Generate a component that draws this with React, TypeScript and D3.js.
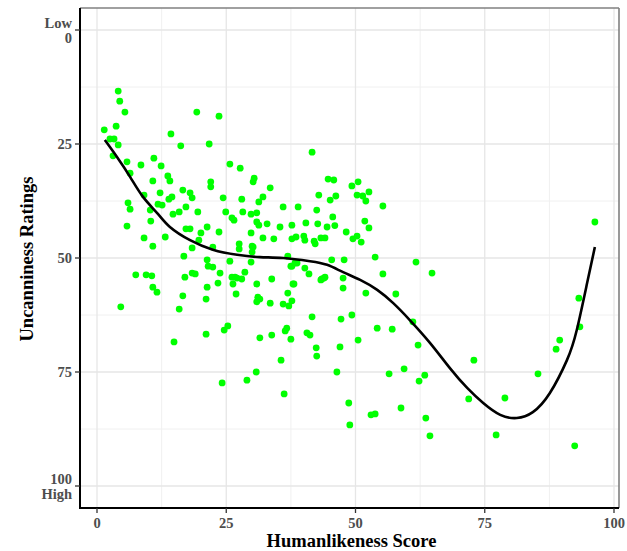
import React from "react";
import * as d3 from "d3";

// Humanlikeness score (x) and uncanniness rating (y) for each rated face
const humanlikeness: number[] = [
  1.4, 4.1, 4.4, 5.4, 3.7, 2.5, 3.3, 4.1, 3.1, 5.8, 6.4, 8.5, 11.0, 12.4, 10.8, 13.7, 14.1, 12.2, 16.6, 18.0,
  18.4, 19.3, 23.6, 14.3, 16.2, 21.7, 22.0, 22.0, 25.7, 27.7, 30.4, 30.2, 33.5, 6.0, 6.4, 5.8, 9.1, 10.3, 10.4, 9.1,
  10.8, 11.8, 12.6, 13.9, 14.5, 14.7, 15.9, 13.2, 17.2, 19.5, 21.3, 23.6, 24.4, 24.9, 26.1, 26.5, 28.0, 28.2, 29.8, 30.9,
  31.3, 32.9, 32.1, 31.3, 32.1, 34.2, 29.8, 17.2, 18.0, 20.1, 19.7, 18.4, 16.8, 22.4, 21.3, 21.5, 22.4, 23.8, 25.7, 27.5,
  27.5, 30.0, 29.8, 28.6, 26.7, 7.5, 9.5, 10.6, 18.4, 19.0, 17.0, 10.8, 11.6, 4.6, 16.6, 15.9, 23.4, 21.3, 21.1, 26.1,
  27.1, 28.0, 26.3, 26.9, 30.9, 33.8, 31.1, 31.5, 30.9, 33.5, 36.0, 36.9, 38.1, 37.7, 37.1, 37.5, 38.3, 40.2, 41.0, 43.5,
  44.1, 41.6, 21.1, 24.6, 25.3, 14.9, 31.5, 33.8, 36.4, 36.7, 37.5, 40.6, 41.2, 42.4, 42.5, 35.6, 30.8, 29.0, 24.2, 36.2,
  41.6, 44.7, 45.8, 42.9, 45.1, 46.2, 49.3, 50.5, 50.3, 51.4, 52.0, 52.6, 55.3, 35.4, 37.7, 40.4, 42.5, 42.7, 44.5, 45.6,
  46.0, 48.2, 51.8, 52.6, 37.7, 38.5, 40.0, 40.2, 42.0, 42.2, 43.3, 44.1, 49.5, 50.3, 51.1, 30.2, 30.0, 36.9, 37.7, 38.7,
  43.3, 43.9, 45.4, 47.8, 47.6, 47.6, 53.8, 55.3, 52.0, 57.8, 61.7, 64.8, 37.9, 47.2, 49.3, 54.2, 57.1, 61.1, 47.0, 50.5,
  62.1, 46.4, 48.7, 48.9, 53.0, 53.8, 56.5, 59.4, 58.8, 62.3, 63.4, 63.6, 64.4, 72.9, 71.9, 78.9, 77.2, 85.3, 88.8, 89.5,
  93.4, 93.2, 92.4, 96.3, 36.0, 38.9, 30.9,
];
const uncanniness: number[] = [
  21.9, 13.4, 15.6, 18.0, 21.1, 23.9, 23.9, 25.2, 27.6, 28.9, 31.4, 29.6, 28.1, 29.8, 33.1, 32.0, 33.1, 35.7, 35.1, 35.7,
  36.8, 18.0, 18.9, 22.8, 25.4, 25.0, 33.3, 34.4, 29.4, 30.3, 32.5, 33.3, 34.6, 37.9, 39.3, 43.0, 36.2, 39.5, 41.9, 45.6,
  47.4, 38.2, 38.4, 37.1, 36.6, 40.4, 39.9, 45.4, 38.8, 39.9, 43.2, 44.3, 36.8, 39.9, 41.2, 41.7, 37.1, 39.9, 40.4, 42.1,
  42.8, 42.5, 36.6, 37.7, 45.6, 45.8, 44.5, 43.6, 43.6, 44.5, 46.1, 47.8, 49.6, 47.6, 50.4, 51.8, 52.0, 53.3, 50.7, 46.9,
  48.0, 47.4, 50.9, 53.1, 54.2, 53.7, 53.7, 53.9, 53.3, 53.5, 54.2, 56.4, 57.5, 60.7, 58.3, 61.2, 55.5, 56.4, 59.0, 54.2,
  54.4, 54.6, 55.7, 57.9, 55.7, 54.6, 58.6, 59.0, 59.6, 59.9, 60.1, 57.7, 55.7, 59.4, 60.5, 51.8, 51.1, 52.2, 53.5, 54.6,
  54.2, 62.9, 66.7, 65.8, 64.9, 68.4, 67.5, 66.9, 66.0, 65.4, 67.8, 66.4, 66.9, 69.7, 71.5, 72.4, 75.0, 76.8, 77.4, 79.8,
  26.8, 32.7, 32.9, 36.2, 37.3, 36.4, 34.2, 33.3, 36.2, 36.4, 37.5, 35.5, 38.6, 43.2, 42.8, 42.3, 39.5, 42.5, 43.2, 41.0,
  42.9, 44.3, 41.9, 43.4, 45.8, 45.4, 45.2, 46.1, 46.3, 46.9, 45.6, 45.6, 45.8, 45.2, 46.5, 47.6, 48.7, 49.6, 51.8, 51.1,
  54.8, 54.4, 50.4, 50.4, 54.4, 56.6, 49.8, 53.5, 57.7, 57.9, 50.9, 53.3, 55.7, 63.4, 62.5, 65.4, 65.6, 64.0, 69.5, 68.0,
  69.1, 75.0, 81.8, 86.6, 84.4, 84.2, 75.4, 74.3, 82.9, 77.0, 75.7, 85.1, 89.0, 72.4, 80.9, 80.7, 88.8, 75.4, 70.0, 68.0,
  65.1, 58.8, 91.2, 42.1, 38.8, 38.8, 40.1,
];

// Smoothed trend line
const trendX: number[] = [
  1.5, 3.9, 6.4, 8.9, 11.6, 14.1, 18.0, 22.4, 27.1, 31.5, 36.0, 41.2, 44.5, 47.6, 50.9,
  54.2, 57.3, 60.5, 64.4, 68.3, 71.6, 74.7, 78.0, 81.2, 84.3, 87.6, 90.9, 92.8, 94.8, 96.3,
];
const trendY: number[] = [
  24.1, 27.9, 32.2, 36.6, 40.1, 43.2, 46.1, 48.2, 49.3, 49.8, 50.0, 50.7, 51.5, 53.1, 54.8,
  57.0, 59.9, 63.6, 68.6, 74.2, 78.5, 81.8, 84.4, 85.1, 83.8, 79.6, 72.4, 65.8, 55.5, 47.6,
];

const xTicks: number[] = [0, 25, 50, 75, 100];
const yTicks: number[] = [0, 25, 50, 75, 100];
const yTickLabels: string[][] = [["Low", "0"], ["25"], ["50"], ["75"], ["100", "High"]];
const minorTicks: number[] = [12.5, 37.5, 62.5, 87.5];

const W = 627;
const H = 551;
const panel = { left: 80, right: 619, top: 8, bottom: 508 };
const FONT = "'Liberation Serif', 'Times New Roman', serif";

export default function App() {
  const x = d3.scaleLinear().domain([0, 100]).range([97, 614]);
  const y = d3.scaleLinear().domain([0, 100]).range([30, 486]);

  const pts = humanlikeness.map((h, i) => [h, uncanniness[i]] as [number, number]);
  const trend = trendX.map((t, i) => [t, trendY[i]] as [number, number]);
  const line = d3
    .line<[number, number]>()
    .x((d) => x(d[0]))
    .y((d) => y(d[1]))
    .curve(d3.curveNatural);

  return (
    <svg
      width={W}
      height={H}
      style={{ position: "absolute", left: 0, top: 0, background: "#fff" }}
      fontFamily={FONT}
    >
      <rect x={0} y={0} width={W} height={H} fill="#fff" />
      {/* minor grid */}
      {minorTicks.map((t) => (
        <g key={"m" + t}>
          <line x1={x(t)} x2={x(t)} y1={panel.top} y2={panel.bottom} stroke="#f0f0f0" strokeWidth={1} />
          <line x1={panel.left} x2={panel.right} y1={y(t)} y2={y(t)} stroke="#f0f0f0" strokeWidth={1} />
        </g>
      ))}
      {/* major grid */}
      {xTicks.map((t) => (
        <line key={"gx" + t} x1={x(t)} x2={x(t)} y1={panel.top} y2={panel.bottom} stroke="#e6e6e6" strokeWidth={1.3} />
      ))}
      {yTicks.map((t) => (
        <line key={"gy" + t} x1={panel.left} x2={panel.right} y1={y(t)} y2={y(t)} stroke="#e6e6e6" strokeWidth={1.3} />
      ))}

      {/* points */}
      {pts.map((d, i) => (
        <circle key={i} cx={x(d[0])} cy={y(d[1])} r={3.4} fill="#00ff00" />
      ))}

      {/* trend */}
      <path d={line(trend) || ""} fill="none" stroke="#000" strokeWidth={2.6} />

      {/* border top/right */}
      <line x1={panel.left} x2={panel.right} y1={panel.top} y2={panel.top} stroke="#808080" strokeWidth={1.3} />
      <line x1={panel.right} x2={panel.right} y1={panel.top} y2={panel.bottom} stroke="#808080" strokeWidth={1.6} />
      {/* axis lines */}
      <line x1={panel.left} x2={panel.left} y1={panel.top} y2={panel.bottom + 1} stroke="#000" strokeWidth={2} />
      <line x1={panel.left - 1} x2={panel.right} y1={panel.bottom} y2={panel.bottom} stroke="#000" strokeWidth={2} />

      {/* y ticks */}
      {yTicks.map((t, i) => {
        const lines = yTickLabels[i];
        const lh = 15;
        const start = y(t) - ((lines.length - 1) * lh) / 2;
        return (
          <g key={"ty" + t}>
            <line x1={panel.left - 5} x2={panel.left} y1={y(t)} y2={y(t)} stroke="#333" strokeWidth={1.3} />
            {lines.map((s, j) => (
              <text
                key={j}
                x={72}
                y={start + j * lh}
                dy="0.35em"
                textAnchor="end"
                fontSize={14.5}
                fontWeight="bold"
                fill="#4d4d4d"
              >
                {s}
              </text>
            ))}
          </g>
        );
      })}

      {/* x ticks */}
      {xTicks.map((t) => (
        <g key={"tx" + t}>
          <line x1={x(t)} x2={x(t)} y1={panel.bottom} y2={panel.bottom + 5} stroke="#333" strokeWidth={1.3} />
          <text x={x(t)} y={528} textAnchor="middle" fontSize={14.5} fontWeight="bold" fill="#4d4d4d">
            {t}
          </text>
        </g>
      ))}

      {/* axis titles */}
      <text
        x={(panel.left + panel.right) / 2 + 2}
        y={547}
        textAnchor="middle"
        fontSize={18.5}
        fontWeight="bold"
        fill="#000"
      >
        Humanlikeness Score
      </text>
      <text
        transform={`translate(33, ${(panel.top + panel.bottom) / 2 + 1}) rotate(-90)`}
        textAnchor="middle"
        fontSize={18.5}
        fontWeight="bold"
        fill="#000"
      >
        Uncanniness Ratings
      </text>
    </svg>
  );
}
